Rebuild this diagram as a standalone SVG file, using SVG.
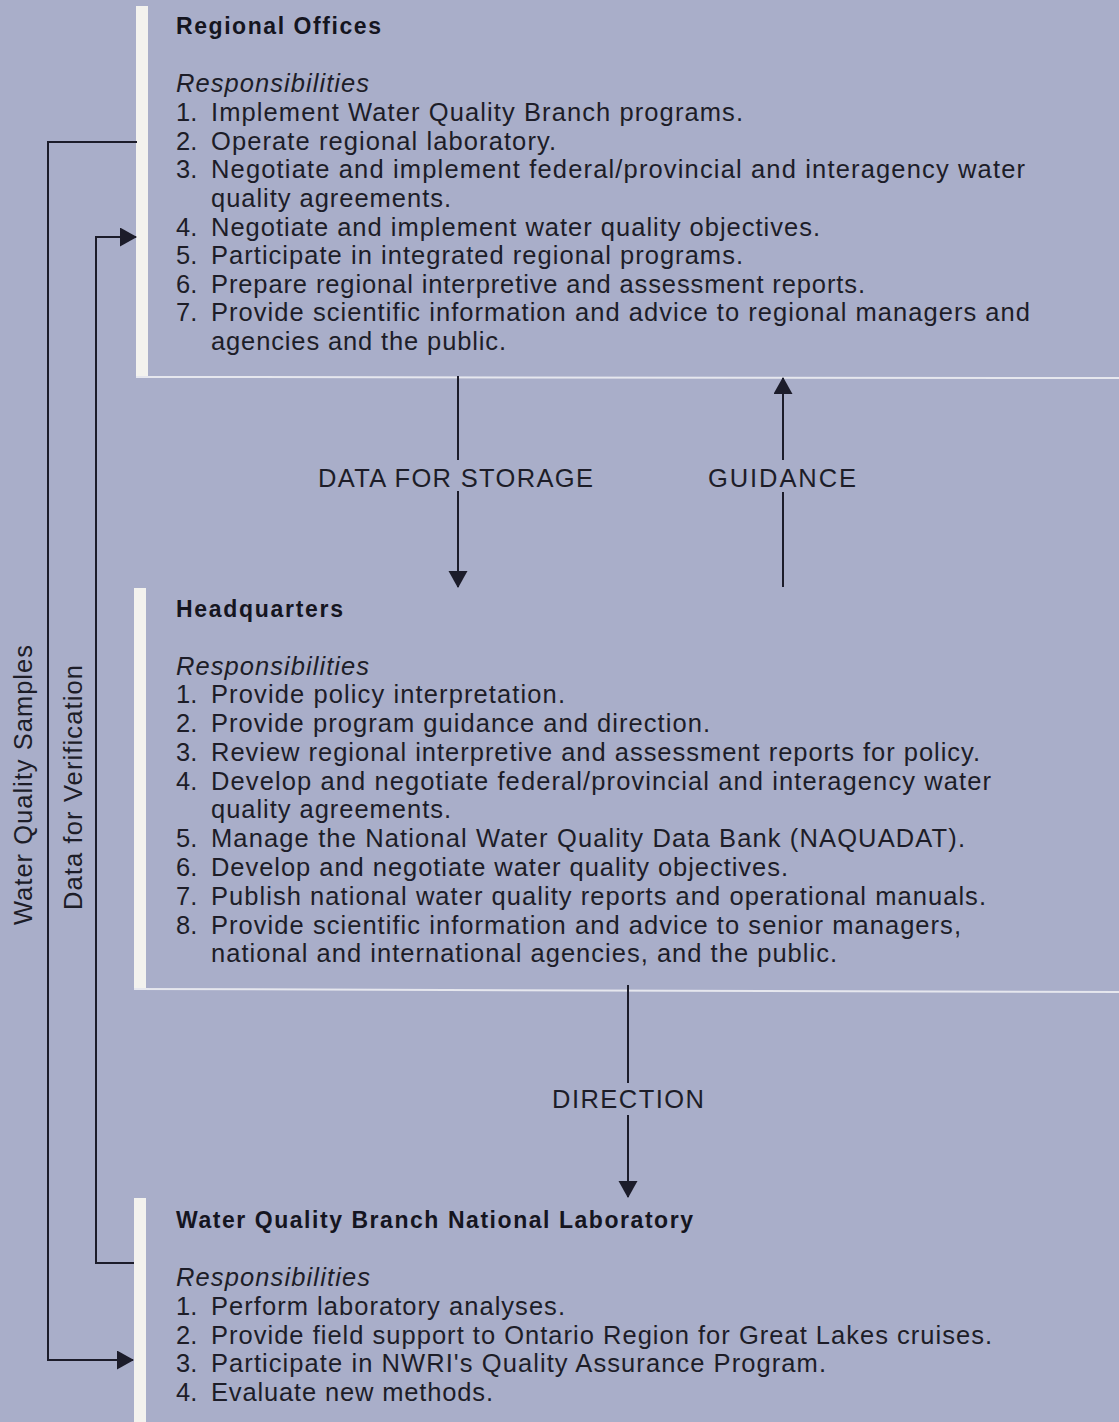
<svg xmlns="http://www.w3.org/2000/svg" width="1119" height="1422" viewBox="0 0 1119 1422">
<defs>
<style>
.t{font-family:"Liberation Sans",Arial,sans-serif;fill:#1d1d28;font-size:25.5px}
.h{font-family:"Liberation Sans",Arial,sans-serif;fill:#15151f;font-size:23px;font-weight:bold}
.i{font-style:italic}
.bar{fill:#f3f2ee}
.rule{stroke:#e6e7ee;stroke-width:2}
.c{fill:none;stroke:#1c1c2a;stroke-width:2}
</style>
<marker id="ah" markerUnits="userSpaceOnUse" markerWidth="18" markerHeight="20" refX="16" refY="9.5" orient="auto">
<path d="M0,0 L17,9.5 L0,19 z" fill="#1c1c2a"/>
</marker>
</defs>
<rect width="1119" height="1422" fill="#a9aec9"/>

<g id="regional-offices">
<rect class="bar" x="136" y="6" width="12" height="372"/>
<line class="rule" x1="136" y1="377" x2="1119" y2="378"/>
<text class="h" x="176" y="34" textLength="205">Regional Offices</text>
<text class="t i" x="176" y="92" textLength="193">Responsibilities</text>
<text class="t" x="176" y="121">1.</text><text class="t" x="211" y="121" textLength="532">Implement Water Quality Branch programs.</text>
<text class="t" x="176" y="150">2.</text><text class="t" x="211" y="150" textLength="345">Operate regional laboratory.</text>
<text class="t" x="176" y="178">3.</text><text class="t" x="211" y="178" textLength="814">Negotiate and implement federal/provincial and interagency water</text>
<text class="t" x="211" y="207" textLength="240">quality agreements.</text>
<text class="t" x="176" y="236">4.</text><text class="t" x="211" y="236" textLength="609">Negotiate and implement water quality objectives.</text>
<text class="t" x="176" y="264">5.</text><text class="t" x="211" y="264" textLength="532">Participate in integrated regional programs.</text>
<text class="t" x="176" y="293">6.</text><text class="t" x="211" y="293" textLength="654">Prepare regional interpretive and assessment reports.</text>
<text class="t" x="176" y="321">7.</text><text class="t" x="211" y="321" textLength="819">Provide scientific information and advice to regional managers and</text>
<text class="t" x="211" y="350" textLength="295">agencies and the public.</text>
</g>

<g id="headquarters">
<rect class="bar" x="134" y="588" width="12" height="402"/>
<line class="rule" x1="134" y1="989" x2="1119" y2="992"/>
<text class="h" x="176" y="617" textLength="167">Headquarters</text>
<text class="t i" x="176" y="675" textLength="193">Responsibilities</text>
<text class="t" x="176" y="703">1.</text><text class="t" x="211" y="703" textLength="354">Provide policy interpretation.</text>
<text class="t" x="176" y="732">2.</text><text class="t" x="211" y="732" textLength="499">Provide program guidance and direction.</text>
<text class="t" x="176" y="761">3.</text><text class="t" x="211" y="761" textLength="769">Review regional interpretive and assessment reports for policy.</text>
<text class="t" x="176" y="790">4.</text><text class="t" x="211" y="790" textLength="780">Develop and negotiate federal/provincial and interagency water</text>
<text class="t" x="211" y="818" textLength="240">quality agreements.</text>
<text class="t" x="176" y="847">5.</text><text class="t" x="211" y="847" textLength="754">Manage the National Water Quality Data Bank (NAQUADAT).</text>
<text class="t" x="176" y="876">6.</text><text class="t" x="211" y="876" textLength="577">Develop and negotiate water quality objectives.</text>
<text class="t" x="176" y="905">7.</text><text class="t" x="211" y="905" textLength="775">Publish national water quality reports and operational manuals.</text>
<text class="t" x="176" y="934">8.</text><text class="t" x="211" y="934" textLength="750">Provide scientific information and advice to senior managers,</text>
<text class="t" x="211" y="962" textLength="626">national and international agencies, and the public.</text>
</g>

<g id="national-laboratory">
<rect class="bar" x="134" y="1198" width="12" height="224"/>
<text class="h" x="176" y="1228" textLength="517">Water Quality Branch National Laboratory</text>
<text class="t i" x="176" y="1286" textLength="194">Responsibilities</text>
<text class="t" x="176" y="1315">1.</text><text class="t" x="211" y="1315" textLength="354">Perform laboratory analyses.</text>
<text class="t" x="176" y="1344">2.</text><text class="t" x="211" y="1344" textLength="781">Provide field support to Ontario Region for Great Lakes cruises.</text>
<text class="t" x="176" y="1372">3.</text><text class="t" x="211" y="1372" textLength="615">Participate in NWRI's Quality Assurance Program.</text>
<text class="t" x="176" y="1401">4.</text><text class="t" x="211" y="1401" textLength="282">Evaluate new methods.</text>
</g>

<g id="connectors">
<path class="c" d="M458,376 V460"/>
<path class="c" d="M458,491 V587" marker-end="url(#ah)"/>
<text class="t" x="318" y="487" textLength="275">DATA FOR STORAGE</text>
<path class="c" d="M783,587 V492"/>
<path class="c" d="M783,460 V378" marker-end="url(#ah)"/>
<text class="t" x="708" y="487" textLength="148">GUIDANCE</text>
<path class="c" d="M628,985 V1083"/>
<path class="c" d="M628,1115 V1197" marker-end="url(#ah)"/>
<text class="t" x="552" y="1108" textLength="152">DIRECTION</text>
<path class="c" d="M137,142 H48 V1360 H133" marker-end="url(#ah)"/>
<text class="t" transform="translate(32,925) rotate(-90)" x="0" y="0" textLength="280">Water Quality Samples</text>
<path class="c" d="M134,1263 H96 V237 H136" marker-end="url(#ah)"/>
<text class="t" transform="translate(82,910) rotate(-90)" x="0" y="0" textLength="245">Data for Verification</text>
</g>
</svg>
